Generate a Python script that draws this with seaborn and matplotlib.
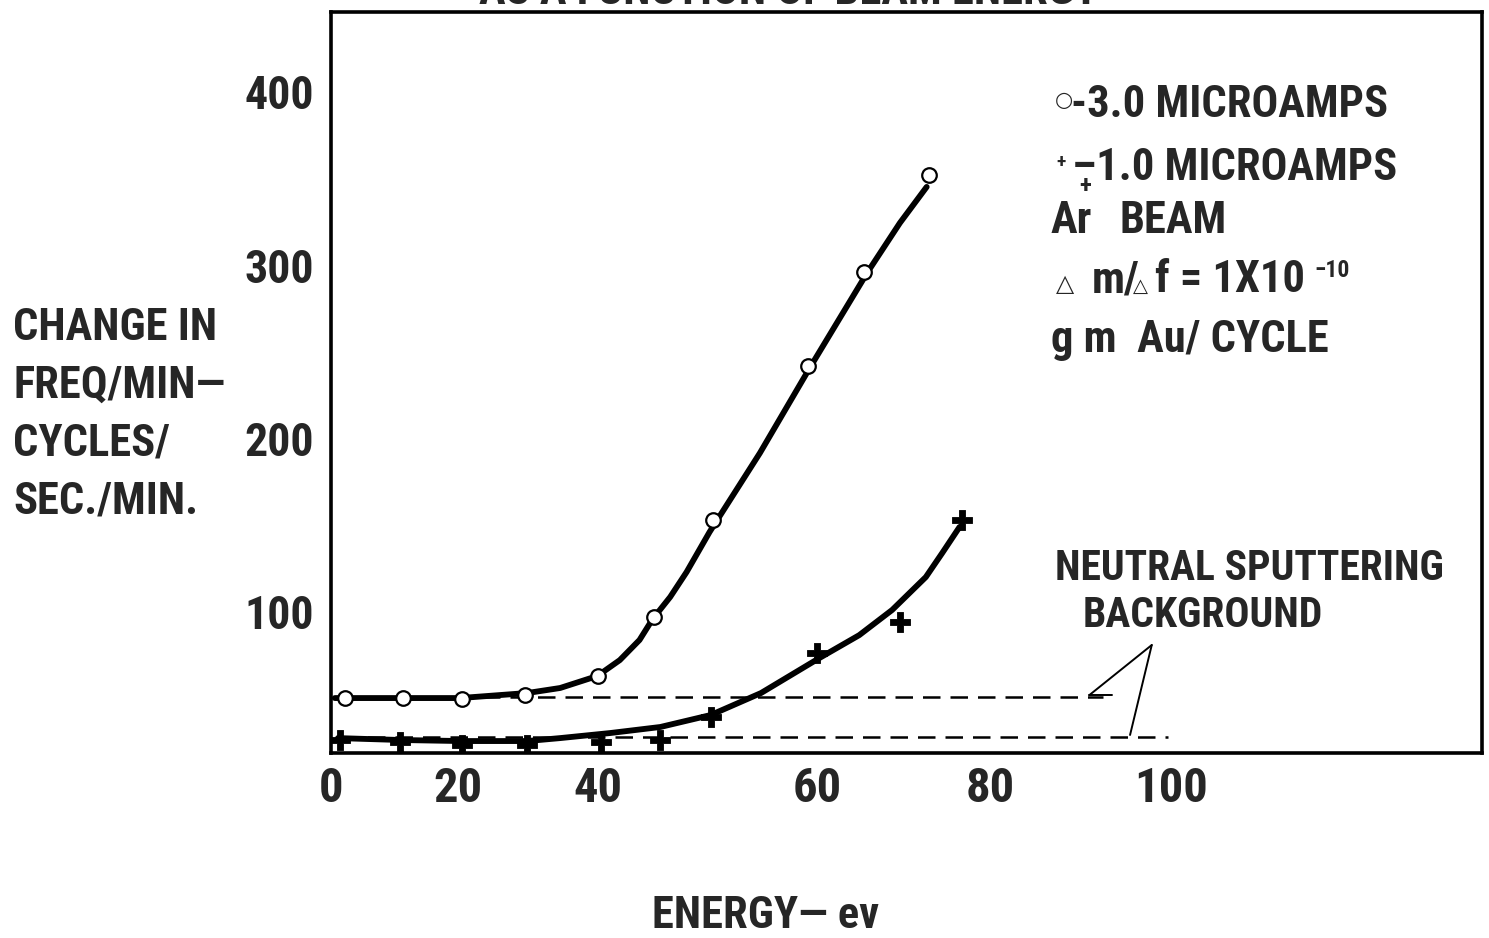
import numpy as np
import pandas as pd
import matplotlib
matplotlib.use("Agg")
import matplotlib.pyplot as plt
import seaborn as sns
from matplotlib import font_manager as fm

# ---------------- data ----------------
circle_energy = [2.2, 11.3, 20.6, 29.6, 40.0, 45.1, 50.5, 59.2, 65.5, 73.0]
circle_rate = [50, 50, 49.5, 52, 63, 97, 153, 242, 296, 352]

plus_energy = [1.4, 10.9, 20.6, 29.9, 40.3, 45.7, 50.3, 60.0, 69.6, 76.8]
plus_rate = [26, 25, 23, 23, 25, 26, 39, 76, 94, 153]

circle_fit_energy = [0.6, 10.9, 20.3, 29.9, 34.6, 39.9, 42.0, 43.8, 45.0, 46.6,
                     48.1, 50.2, 54.8, 59.4, 65.8, 69.6, 72.7]
circle_fit_rate = [50.2, 50.2, 50.2, 53.1, 56.0, 62.9, 72.1, 83.7, 95.8, 108.5,
                   122.9, 146.0, 191.6, 241.2, 295.4, 324.3, 345.1]

plus_fit_energy = [1.1, 10.9, 20.3, 29.9, 34.6, 41.1, 45.7, 50.3, 54.9, 60.3,
                   64.9, 68.7, 72.6, 74.5, 76.5]
plus_fit_rate = [27.1, 26.0, 25.4, 25.4, 27.1, 30.0, 33.5, 40.4, 53.1, 73.3,
                 86.5, 101.0, 120.0, 133.9, 148.9]

background_levels = [50.8, 27.7]
background_start = [2.2, 1.4]
background_end = [92.5, 99.7]

x_ticks = [0, 20, 40, 60, 80, 100]
y_ticks = [100, 200, 300, 400]

# ---------------- hand-drawn (uneven) energy axis of the printed figure ----------------
scale_ev = np.array([-20, 0, 20, 40, 60, 80, 100, 150], dtype=float)
scale_pos = np.array([204, 331, 458, 598, 817, 990, 1171, 1623.5], dtype=float)


def fwd(x):
    return np.interp(x, scale_ev, scale_pos)


def inv(p):
    return np.interp(p, scale_pos, scale_ev)


# ---------------- fonts ----------------
sns.set_style("white")


def pick_font():
    for fam in ["Liberation Sans Narrow", "Roboto Condensed", "Open Sans Condensed"]:
        try:
            fm.findfont(fm.FontProperties(family=fam, weight="bold"), fallback_to_default=False)
            return fam, "normal"
        except Exception:
            pass
    return "DejaVu Sans", "condensed"


FONT, STRETCH = pick_font()
plt.rcParams["font.family"] = [FONT, "DejaVu Sans"]
plt.rcParams["font.weight"] = "bold"

W, H = 1489, 938
fig = plt.figure(figsize=(W / 100, H / 100), dpi=100)
fig.patch.set_facecolor("white")
ax = fig.add_axes([331 / W, 1 - 753 / H, (1482 - 331) / W, (753 - 12) / H])


def ftxt(x, y, s, size=32, **kw):
    fig.text(x / W, 1 - y / H, s, fontsize=size, fontweight="bold", fontstretch=STRETCH,
             family=[FONT, "DejaVu Sans"], ha=kw.pop("ha", "left"), va=kw.pop("va", "baseline"), **kw)


# ---------------- plot ----------------
sns.lineplot(x=circle_fit_energy, y=circle_fit_rate, sort=False, estimator=None,
             color="black", linewidth=4.2, ax=ax, zorder=2,
             solid_joinstyle="round", solid_capstyle="round")
sns.lineplot(x=plus_fit_energy, y=plus_fit_rate, sort=False, estimator=None,
             color="black", linewidth=4.2, ax=ax, zorder=2,
             solid_joinstyle="round", solid_capstyle="round")
sns.scatterplot(x=circle_energy, y=circle_rate, marker="o", s=110, facecolor="white",
                edgecolor="black", linewidth=1.6, ax=ax, zorder=4)
sns.scatterplot(x=plus_energy, y=plus_rate, marker="P", s=190, color="black",
                edgecolor="black", linewidth=0.6, ax=ax, zorder=4)

ax.hlines(background_levels, background_start, background_end, colors="black",
          linestyles=(0, (7, 4)), linewidth=1.8, zorder=1)

# pointer lines from the "NEUTRAL SPUTTERING BACKGROUND" note
ax.plot([97.9, 91.0], [80.8, 51.9], color="black", lw=1.4)
ax.plot([97.9, 95.5], [80.8, 28.9], color="black", lw=1.4)
ax.plot([91.0, 93.5], [51.9, 51.9], color="black", lw=1.4)

ax.set_xscale("function", functions=(fwd, inv))
ax.set_xlim(0, 134.4)
ax.set_ylim(18.5, 446)
ax.set_xticks(x_ticks)
ax.set_xticklabels([str(t) for t in x_ticks])
ax.set_yticks(y_ticks)
ax.set_yticklabels([str(t) for t in y_ticks])
ax.minorticks_off()
ax.set_xlabel("")
ax.set_ylabel("")
ax.tick_params(axis="x", length=0, pad=9, labelsize=35)
ax.tick_params(axis="y", direction="in", length=7, width=1.2, pad=12, labelsize=33)
for lab in ax.get_xticklabels() + ax.get_yticklabels():
    lab.set_fontweight("bold")
    lab.set_fontstretch(STRETCH)
for sp in ax.spines.values():
    sp.set_visible(True)
    sp.set_linewidth(2.6)
    sp.set_color("black")
ax.grid(False)

# ---------------- texts ----------------
ftxt(789, 4, "AS A FUNCTION OF BEAM ENERGY", ha="center")

for yb, line in zip([340, 398, 455, 513], ["CHANGE IN", "FREQ/MIN\u2014", "CYCLES/", "SEC./MIN."]):
    ftxt(13, yb, line, 32)

ftxt(652, 928, "ENERGY\u2014 ev", 32)

# legend block
ftxt(1055, 106, "\u25cb", 15)
ftxt(1071, 117, "-3.0 MICROAMPS", 32)
ftxt(1056, 167, "+", 14)
ftxt(1072, 180, "\u20131.0 MICROAMPS", 32)
ftxt(1051, 233, "Ar", 32)
ftxt(1079, 193, "+", 18)
ftxt(1120, 233, "BEAM", 32)
ftxt(1056, 291, "\u25b3", 17)
ftxt(1092, 292, "m/", 32)
ftxt(1133, 292, "\u25b3", 14)
ftxt(1155, 292, "f = 1X10", 32)
ftxt(1314, 277, "\u221210", 17)
ftxt(1051, 352, "g m  Au/ CYCLE", 32)

ftxt(1055, 580, "NEUTRAL SPUTTERING", 30)
ftxt(1083, 627, "BACKGROUND", 30)

fig.savefig("out.png", dpi=100)
